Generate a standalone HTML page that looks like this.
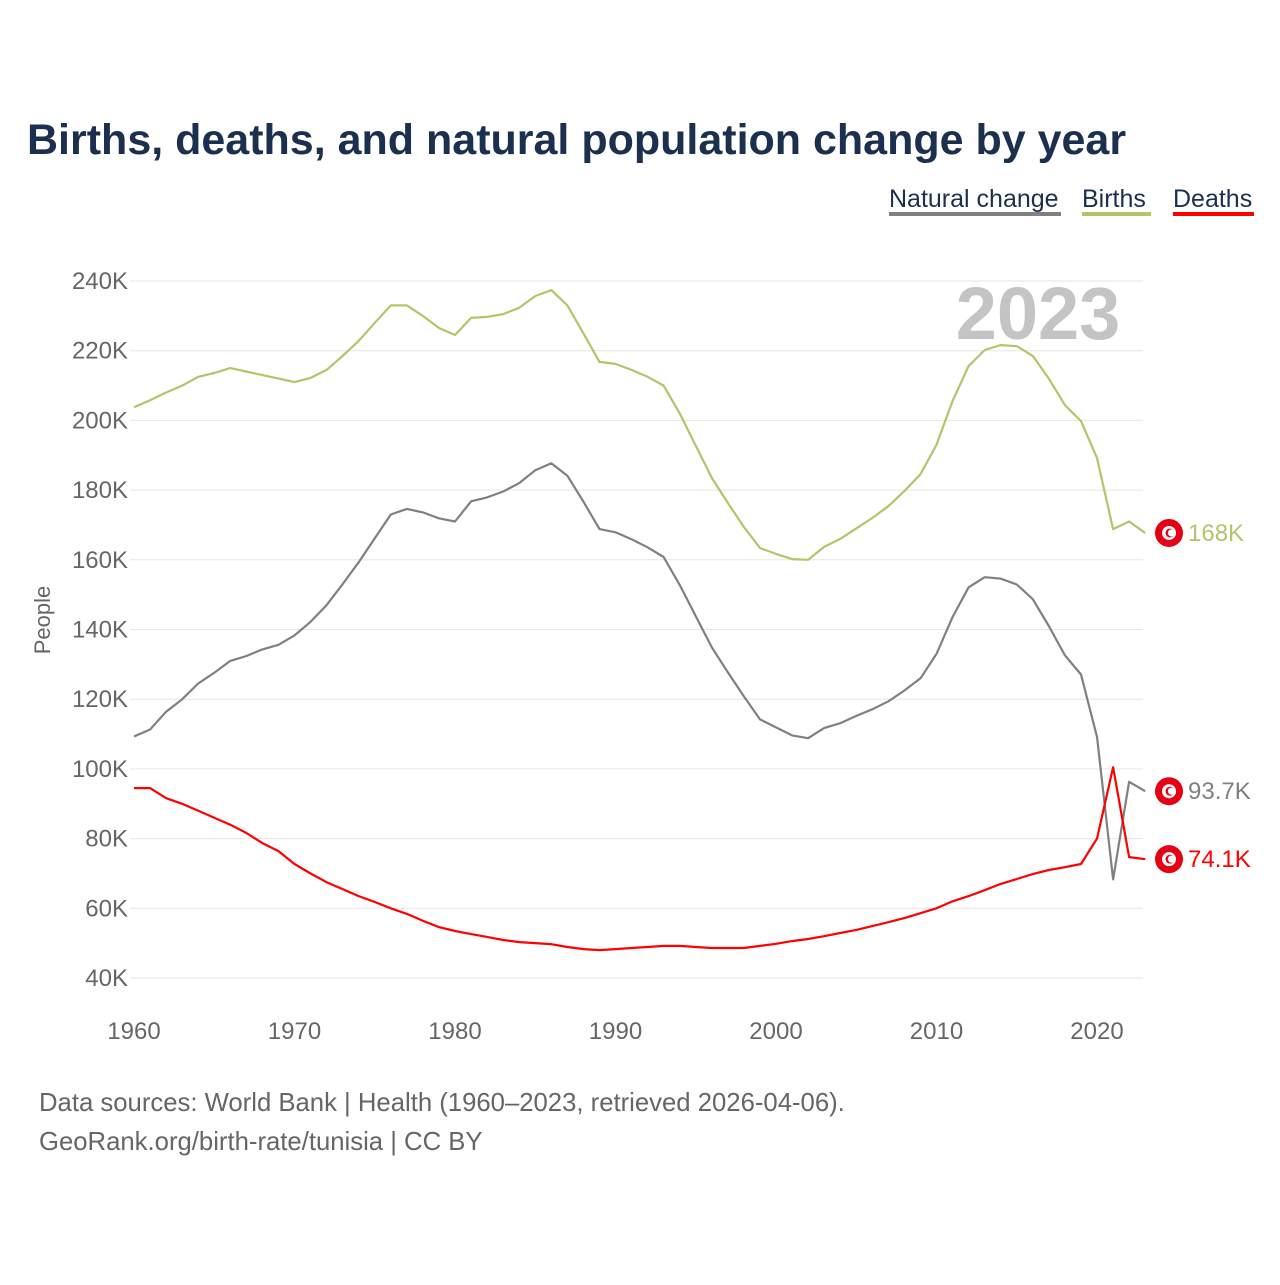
<!DOCTYPE html>
<html><head><meta charset="utf-8"><style>
body{margin:0;background:#fff;width:1280px;height:1280px;overflow:hidden;font-family:"Liberation Sans",sans-serif;}
</style></head><body>
<svg width="1280" height="1280" viewBox="0 0 1280 1280">
<text x="27" y="154" font-size="43" font-weight="bold" fill="#1b2f4e">Births, deaths, and natural population change by year</text>
<g font-size="25">
<g><text x="889" y="207" fill="#1b2f4e">Natural change</text><rect x="889" y="212" width="172" height="4" fill="#808080"/></g>
<g><text x="1082" y="207" fill="#1b2f4e">Births</text><rect x="1082" y="212" width="69" height="4" fill="#b5c36a"/></g>
<g><text x="1173" y="207" fill="#1b2f4e">Deaths</text><rect x="1173" y="212" width="81" height="4" fill="#ff0000"/></g>
</g>
<text x="1038" y="339" font-size="74" font-weight="bold" fill="#c4c4c4" text-anchor="middle">2023</text>
<g id="grid"></g>
<g id="yt" font-size="24" fill="#666"></g>
<g id="xt" font-size="24" fill="#666"></g>
<text transform="translate(50,620) rotate(-90)" font-size="22" fill="#666" text-anchor="middle">People</text>
<g id="series"></g>
<g id="ends"></g>
<text x="39" y="1111" font-size="25.7" fill="#666">Data sources: World Bank | Health (1960–2023, retrieved 2026-04-06).</text>
<text x="39" y="1150" font-size="25.7" fill="#666">GeoRank.org/birth-rate/tunisia | CC BY</text>
</svg>
<script>
const startYear = 1960;
const yTicks = [40,60,80,100,120,140,160,180,200,220,240];
const xTicks = [1960,1970,1980,1990,2000,2010,2020];
const births = [203.8,205.8,208,210,212.5,213.6,215,214,213,212,211,212.2,214.5,218.5,222.8,228,233,233,230,226.5,224.5,229.4,229.7,230.5,232.3,235.7,237.4,233,225,216.8,216.2,214.5,212.5,210,202,192.7,183.5,176.3,169.4,163.4,161.7,160.2,160,163.7,166,169,172,175.4,179.7,184.6,193,205.6,215.6,220.2,221.6,221.3,218.5,212,204.4,199.8,189.2,168.8,171,167.7];
const deaths = [94.5,94.5,91.6,90,88,86,84,81.6,78.7,76.4,72.7,70,67.5,65.5,63.5,61.8,60,58.4,56.4,54.6,53.5,52.6,51.8,50.9,50.3,50,49.7,48.9,48.3,48,48.3,48.6,48.9,49.2,49.2,48.9,48.6,48.6,48.6,49.2,49.8,50.6,51.2,52,52.9,53.8,54.9,56,57.2,58.6,60,62,63.5,65.2,67,68.4,69.8,71,71.8,72.7,80,100.5,74.7,74.1];
const natural = [109.3,111.3,116.4,120,124.5,127.6,131,132.4,134.3,135.6,138.3,142.2,147,153,159.3,166.2,173,174.6,173.6,171.9,171,176.8,177.9,179.6,182,185.7,187.7,184.1,176.7,168.8,167.9,165.9,163.6,160.8,152.8,143.8,134.9,127.7,120.8,114.2,111.9,109.6,108.8,111.7,113.1,115.2,117.1,119.4,122.5,126,133,143.6,152.1,155,154.6,152.9,148.7,141,132.6,127.1,109.2,68.3,96.3,93.6];
const endLabels = ["93.7K","168K","74.1K"];
const NS="http://www.w3.org/2000/svg";
const X = yr => 134 + (yr-1960)*16.05;
const Y = v => 978 - (v-40)*3.485;
function mk(tag,attrs,parent){const e=document.createElementNS(NS,tag);for(const k in attrs)e.setAttribute(k,attrs[k]);parent.appendChild(e);return e;}
const grid=document.getElementById('grid'),yt=document.getElementById('yt'),xt=document.getElementById('xt');
yTicks.forEach(v=>{
 const l=mk('line',{x1:130,x2:1143,y1:Y(v),y2:Y(v),stroke:'#e6e6e6','stroke-width':1},grid);
 
 
 const t=mk('text',{x:128,y:Y(v)+8,'text-anchor':'end'},yt);t.textContent=v+'K';
 
 
});
xTicks.forEach(y=>{
 const t=mk('text',{x:X(y),y:1039,'text-anchor':'middle'},xt);t.textContent=y;
 
 
});
const ser=document.getElementById('series'),ends=document.getElementById('ends');
const defs=[[natural,'#808080','natural-change-line',endLabels[0]],[births,'#b5c36a','births-line',endLabels[1]],[deaths,'#ff0000','deaths-line',endLabels[2]]];
defs.forEach(([arr,col,name,lab])=>{
 const d=arr.map((v,i)=>(i?'L':'M')+X(startYear+i).toFixed(1)+','+Y(v).toFixed(1)).join('');
 const p=mk('path',{d:d,fill:'none',stroke:col,'stroke-width':2.2,'stroke-linejoin':'round'},ser);
 
 
 const last=arr[arr.length-1],yy=Y(last);
 const g=mk('g',{},ends);
 
 
 mk('circle',{cx:1169,cy:yy,r:14,fill:'#e70013'},g);
 mk('circle',{cx:1169,cy:yy,r:7,fill:'#fff'},g);
 mk('circle',{cx:1170,cy:yy,r:4.5,fill:'#e70013'},g);
 mk('circle',{cx:1171.5,cy:yy,r:3.6,fill:'#fff'},g);
 const t=mk('text',{x:1188,y:yy+8,'font-size':24,fill:col},g);t.textContent=lab;
});
</script>
</body></html>
